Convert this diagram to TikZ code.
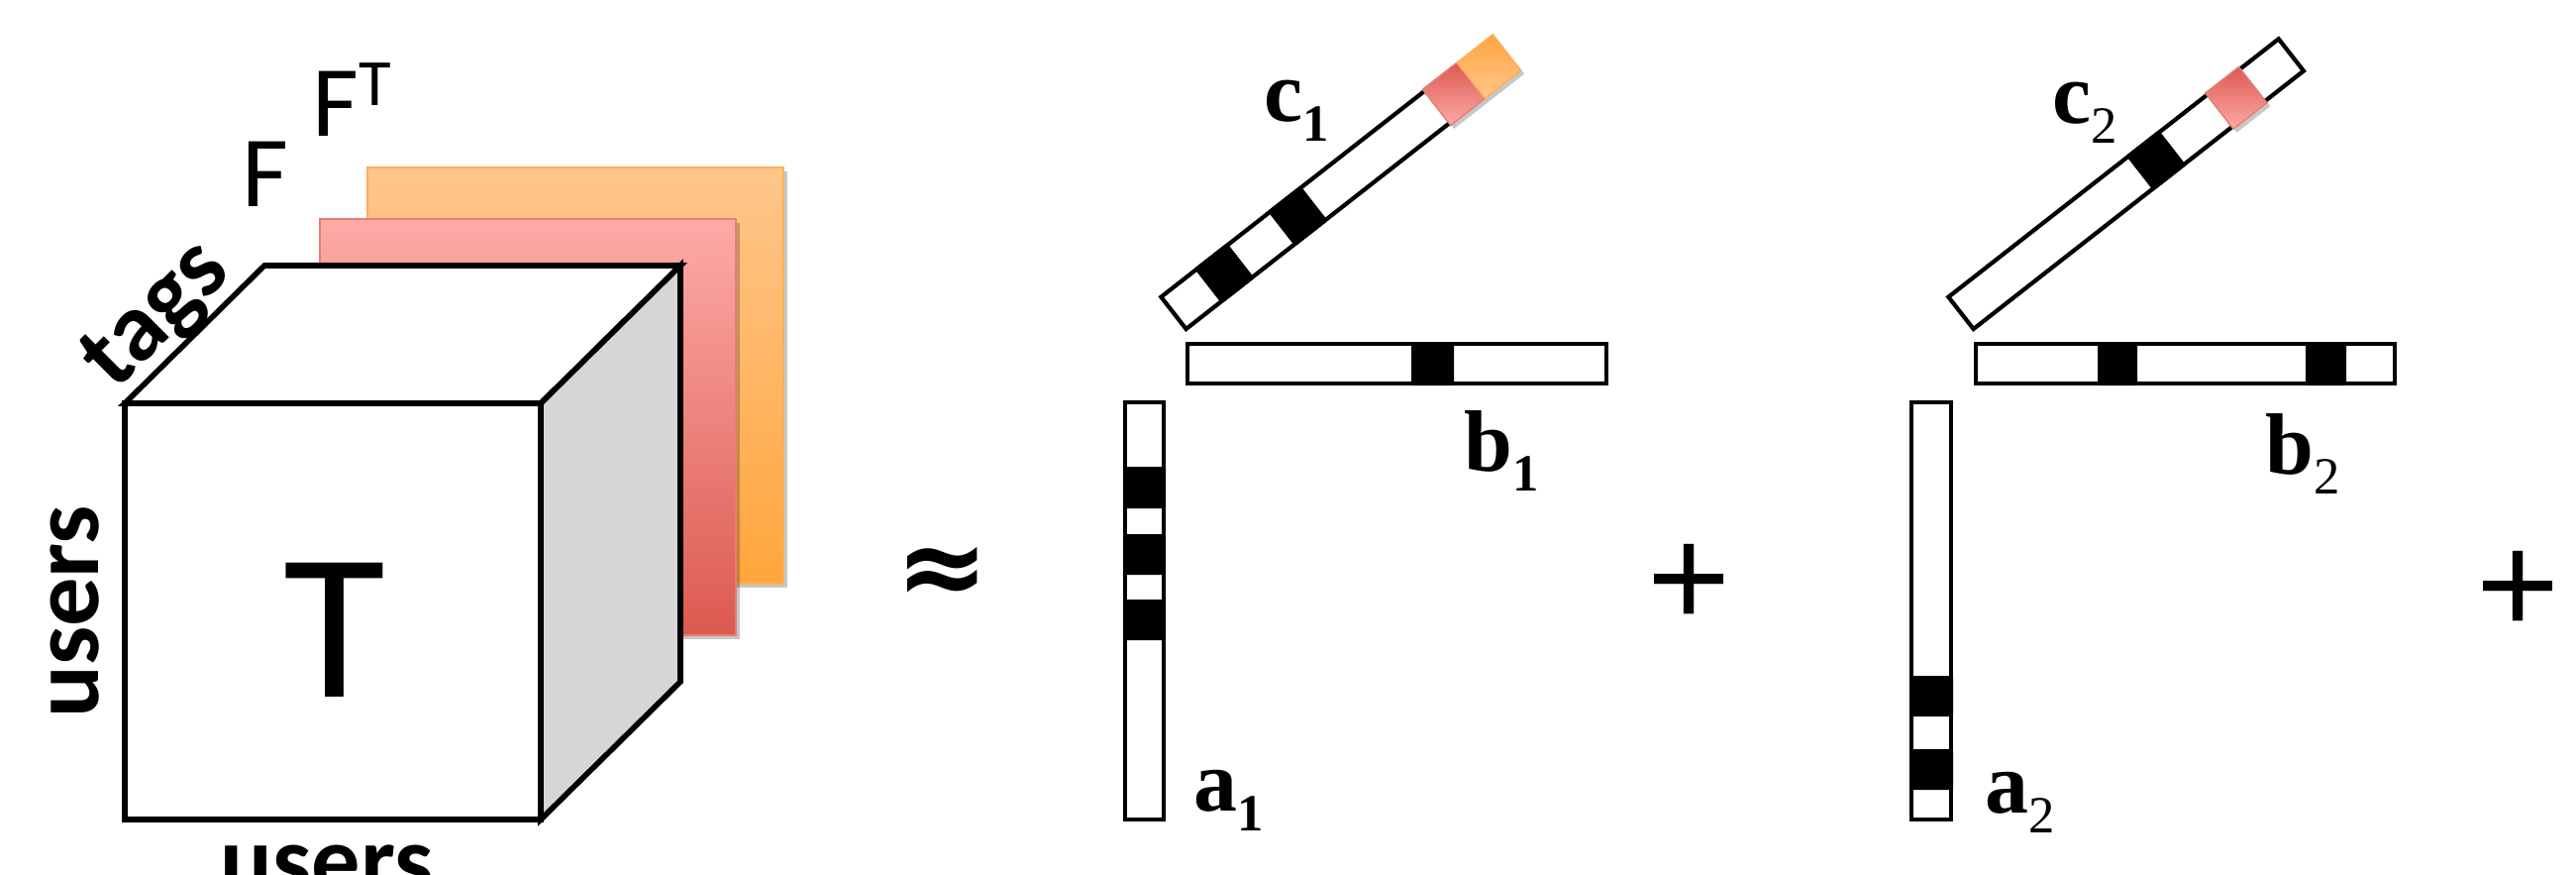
\documentclass[tikz,border=0pt]{standalone}
\usepackage{fontspec}
\setmainfont{Liberation Serif}
\setsansfont{Carlito}
\newfontfamily\plusfont{Liberation Sans}
\newfontfamily\symfont{DejaVu Sans}
\usetikzlibrary{calc,shadows}
\definecolor{pinktop}{HTML}{FDAAA7}
\definecolor{pinkbot}{HTML}{DC5A50}
\definecolor{pinkedge}{HTML}{E27F77}
\definecolor{orangetop}{HTML}{FFC68C}
\definecolor{orangebot}{HTML}{FFA63C}
\definecolor{orangeedge}{HTML}{FFAE55}
\definecolor{sidegray}{HTML}{D6D6D6}
\newcommand{\vecname}[2]{{\bfseries #1}\raisebox{-0.2cm}{\fontsize{15}{15}\selectfont #2}}

\begin{document}
\begin{tikzpicture}[
  cubeline/.style={draw=black,line width=1.6pt,line join=miter},
  bar/.style={draw=black,line width=1.2pt,fill=white},
  blk/.style={fill=black,rounded corners=0.6pt},
  softshadow/.style={drop shadow={shadow xshift=0.035cm,shadow yshift=-0.035cm,opacity=.22,fill=black}},
  pinkslab/.style={draw=pinkedge,line width=0.5pt,top color=pinktop,bottom color=pinkbot,softshadow},
  orangeslab/.style={draw=orangeedge,line width=0.5pt,top color=orangetop,bottom color=orangebot,softshadow},
  pinkcell/.style={draw=pinkedge,line width=0.4pt,top color=pinkbot,bottom color=pinktop,softshadow},
  orangecell/.style={draw=orangeedge,line width=0.4pt,top color=orangebot,bottom color=orangetop,softshadow},
  axislbl/.style={font=\sffamily\bfseries\fontsize{28}{28}\selectfont,inner sep=0pt},
  flbl/.style={font=\sffamily\fontsize{29}{29}\selectfont,inner sep=0pt,anchor=base},
  veclbl/.style={font=\fontsize{25}{25}\selectfont,inner sep=0pt,anchor=base west},
  oplbl/.style={inner sep=0pt,anchor=base}
]
  \useasboundingbox (0,0) rectangle (26.01,8.82);

  % slices behind the tensor
  \path[orangeslab] (3.71,2.93) rectangle (7.91,7.13);
  \path[pinkslab] (3.23,2.41) rectangle (7.43,6.61);

  % tensor cube
  \coordinate (fbl) at (1.26,0.55);
  \coordinate (fbr) at (5.46,0.55);
  \coordinate (ftr) at (5.46,4.75);
  \coordinate (ftl) at (1.26,4.75);
  \coordinate (btl) at ($(ftl)+(1.41,1.39)$);
  \coordinate (btr) at ($(ftr)+(1.41,1.39)$);
  \coordinate (bbr) at ($(fbr)+(1.41,1.39)$);
  \draw[cubeline,fill=white] (ftl) -- (btl) -- (btr) -- (ftr) -- cycle;
  \draw[cubeline,fill=sidegray] (fbr) -- (bbr) -- (btr) -- (ftr) -- cycle;
  \draw[cubeline,fill=white] (fbl) rectangle (ftr);

  \node[font=\sffamily\fontsize{60}{60}\selectfont,inner sep=0pt,anchor=base] (T) at (3.375,1.79) {T};
  \node[axislbl,rotate=90] (usersleft) at (0.755,2.645) {users};
  \node[axislbl,anchor=base] (usersbot) at (3.30,-0.19) {users};
  \node[axislbl,rotate=45] (tags) at (1.60,5.62) {tags};
  \node[flbl] (F) at (2.68,6.74) {F};
  \node[flbl,anchor=base west] (FT) at (3.15,7.45) {F\raisebox{0.31cm}{\fontsize{19}{19}\selectfont T}};

  \node[oplbl,font=\symfont\bfseries\fontsize{32}{32}\selectfont] (approx) at (9.52,2.72) {≈};

  % first rank-one term
  \draw[bar] (11.36,0.55) rectangle (11.75,4.76);
  \fill[blk] (11.34,3.69) rectangle (11.77,4.11);
  \fill[blk] (11.34,3.02) rectangle (11.77,3.43);
  \fill[blk] (11.34,2.36) rectangle (11.77,2.77);
  \draw[bar] (11.99,4.95) rectangle (16.22,5.35);
  \fill[blk] (14.25,4.93) rectangle (14.68,5.37);
  \begin{scope}[shift={(11.976,5.50)},rotate=38]
    \draw[bar] (0,0) rectangle (4.23,0.41);
    \fill[blk] (0.44,-0.02) rectangle (0.86,0.43);
    \fill[blk] (1.38,-0.02) rectangle (1.80,0.43);
    \path[pinkcell] (3.37,-0.025) rectangle (3.81,0.435);
    \path[orangecell] (3.81,-0.025) rectangle (4.27,0.435);
  \end{scope}
  \node[veclbl] (a1) at (12.05,0.64) {\vecname{a}{\bfseries 1}};
  \node[veclbl] (b1) at (14.78,4.07) {\vecname{b}{\bfseries 1}};
  \node[veclbl] (c1) at (12.76,7.60) {\vecname{c}{\bfseries 1}};

  \node[oplbl,font=\plusfont\fontsize{41}{41}\selectfont] (plus1) at (17.06,2.50) {+};

  % second rank-one term
  \draw[bar] (19.30,0.55) rectangle (19.70,4.76);
  \fill[blk] (19.28,1.59) rectangle (19.72,2.00);
  \fill[blk] (19.28,0.85) rectangle (19.72,1.26);
  \draw[bar] (19.95,4.95) rectangle (24.18,5.35);
  \fill[blk] (21.18,4.93) rectangle (21.58,5.37);
  \fill[blk] (23.28,4.93) rectangle (23.69,5.37);
  \begin{scope}[shift={(19.926,5.50)},rotate=38]
    \draw[bar] (0,0) rectangle (4.23,0.41);
    \fill[blk] (2.29,-0.02) rectangle (2.71,0.43);
    \path[pinkcell] (3.31,-0.025) rectangle (3.74,0.435);
  \end{scope}
  \node[veclbl] (a2) at (20.04,0.62) {\vecname{a}{2}};
  \node[veclbl] (b2) at (22.87,4.04) {\vecname{b}{2}};
  \node[veclbl] (c2) at (20.72,7.58) {\vecname{c}{2}};

  \node[oplbl,font=\plusfont\fontsize{41}{41}\selectfont] (plus2) at (25.43,2.43) {+};
\end{tikzpicture}
\end{document}
